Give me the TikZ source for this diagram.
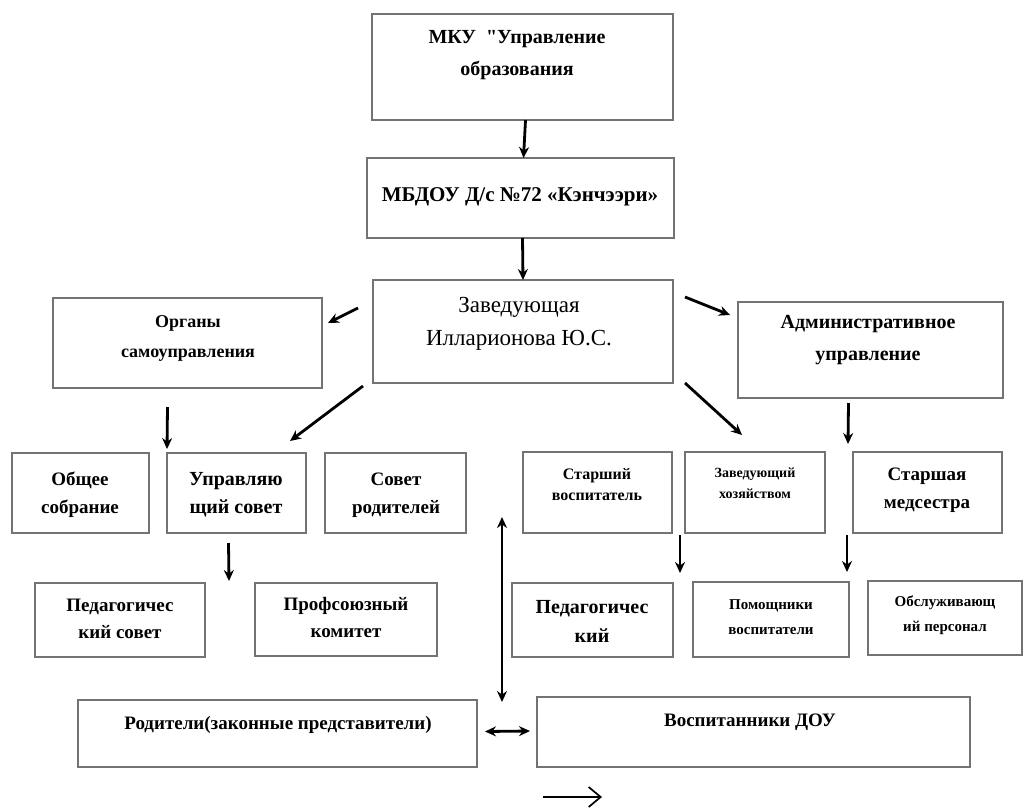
\documentclass[tikz,border=0pt]{standalone}
\usepackage{fontspec}
\setmainfont{Liberation Serif}[Ligatures=TeXOff]
\usetikzlibrary{arrows.meta,fit}
\newcommand{\fs}[2]{\fontsize{#1}{#2}\selectfont}
\tikzset{
  box/.style={draw=black!55, line width=1.8pt, inner sep=0pt, outer sep=0pt},
  lbl/.style={align=center, inner sep=0pt, font=\bfseries},
  arr/.style={line width=2.8pt, -{Stealth[length=11pt,width=10pt]}},
  darr/.style={line width=2.8pt, {Stealth[length=11pt,width=10pt]}-{Stealth[length=11pt,width=10pt]}},
  thinarr/.style={line width=1.7pt, -{Straight Barb[length=12pt,width=20pt,line width=1.7pt]}}
}
\begin{document}
\begin{tikzpicture}[x=1pt,y=-1pt]
\useasboundingbox[fill=white] (0,0) rectangle (1025,807);
% boxes
\node[box, fit={(372,14)(673,120)}] (mku) {};
\node[box, fit={(367,158)(674,238)}] (mbdou) {};
\node[box, fit={(373,280)(673,383)}] (zav) {};
\node[box, fit={(53,298)(322,388)}] (organy) {};
\node[box, fit={(738,302)(1003,398)}] (admin) {};
\node[box, fit={(12,453)(149,533)}] (obsh) {};
\node[box, fit={(167,453)(306,533)}] (upr) {};
\node[box, fit={(325,453)(466,533)}] (sovet) {};
\node[box, fit={(523,452)(672,533)}] (starvos) {};
\node[box, fit={(685,452)(825,533)}] (zavhoz) {};
\node[box, fit={(853,452)(1002,533)}] (starmed) {};
\node[box, fit={(35,583)(205,657)}] (pedsov) {};
\node[box, fit={(255,583)(437,656)}] (prof) {};
\node[box, fit={(512,583)(673,657)}] (ped) {};
\node[box, fit={(693,582)(849,657)}] (pom) {};
\node[box, fit={(868,581)(1022,655)}] (obsl) {};
\node[box, fit={(78,700)(477,767)}] (rod) {};
\node[box, fit={(537,697)(970,767)}] (vos) {};
% labels
\node[lbl, font=\bfseries\fs{20}{32}] (mkuT) at (517,55) {МКУ\ \ "Управление\\образования};
\node[lbl, font=\bfseries\fs{21}{26}] (mbdouT) at (520,197) {МБДОУ Д/с №72 «Кэнчээри»};
\node[lbl, font=\fs{23}{33}] (zavT) at (519,324) {Заведующая\\Илларионова Ю.С.};
\node[lbl, font=\bfseries\fs{18}{30}] (organyT) at (188,338) {Органы\\самоуправления};
\node[lbl, font=\bfseries\fs{20}{32}] (adminT) at (868,340) {Административное\\управление};
\node[lbl, font=\bfseries\fs{19}{28}] (obshT) at (80,495) {Общее\\собрание};
\node[lbl, font=\bfseries\fs{20}{28}] (uprT) at (236,495) {Управляю\\щий совет};
\node[lbl, font=\bfseries\fs{19}{28}] (sovetT) at (396,495) {Совет\\родителей};
\node[lbl, font=\bfseries\fs{16}{21}] (starvosT) at (597,485) {Старший\\воспитатель};
\node[lbl, font=\bfseries\fs{14}{21}] (zavhozT) at (755,483) {Заведующий\\хозяйством};
\node[lbl, font=\bfseries\fs{19}{28}] (starmedT) at (927,490) {Старшая\\медсестра};
\node[lbl, font=\bfseries\fs{19}{27}] (pedsovT) at (120,619) {Педагогичес\\кий совет};
\node[lbl, font=\bfseries\fs{19}{27}] (profT) at (346,617) {Профсоюзный\\комитет};
\node[lbl, font=\bfseries\fs{20}{29}] (pedT) at (592,621) {Педагогичес\\кий};
\node[lbl, font=\bfseries\fs{15}{25}] (pomT) at (771,617) {Помощники\\воспитатели};
\node[lbl, font=\bfseries\fs{15}{25}] (obslT) at (945,615) {Обслуживающ\\ий персонал};
\node[lbl, font=\bfseries\fs{19}{22}] (rodT) at (278,725) {Родители(законные представители)};
\node[lbl, font=\bfseries\fs{19}{22}] (vosT) at (750,722) {Воспитанники ДОУ};
% arrows
\draw[arr] ([xshift=3pt]mku.south) -- ([xshift=3pt]mbdou.north);
\draw[arr] ([xshift=2pt]mbdou.south) -- ([xshift=0pt]zav.north);
\draw[arr] ([shift={(-15,28)}]zav.north west) -- ([shift={(6,25)}]organy.north east);
\draw[arr] ([shift={(12,17)}]zav.north east) -- ([shift={(-8,13)}]admin.north west);
\draw[arr] ([shift={(-10,3)}]zav.south west) -- ([shift={(-16,-12)}]upr.north east);
\draw[arr] ([shift={(12,0)}]zav.south east) -- ([shift={(-13,-17)}]zavhoz.north);
\draw[arr] ([shift={(-20,19)}]organy.south) -- ([shift={(0,-4)}]upr.north west);
\draw[arr] ([shift={(-22,5)}]admin.south) -- ([shift={(-5,-8)}]starmed.north west);
\draw[arr] ([shift={(-8,10)}]upr.south) -- ([shift={(24,-2)}]pedsov.north east);
\draw[arr] ([shift={(8,2)}]starvos.south east) -- ([shift={(7,-10)}]ped.north east);
\draw[arr] ([shift={(-6,2)}]starmed.south west) -- ([shift={(-2,-10)}]pom.north east);
\draw[darr] ([shift={(36,-16)}]sovet.south east) -- ([shift={(25,2)}]rod.north east);
\draw[darr] ([shift={(8,-2)}]rod.east) -- ([shift={(-7,-1)}]vos.west);
\coordinate (b1) at (543,797);
\coordinate (b2) at (602,797);
\draw[thinarr] (b1) -- (b2);
\end{tikzpicture}
\end{document}
